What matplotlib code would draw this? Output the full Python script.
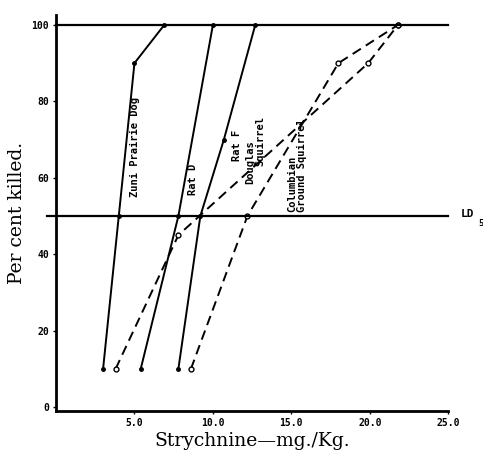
import matplotlib.pyplot as plt

# dose (mg/Kg) vs per cent killed
zuni_x = [3.0, 4.0, 5.0, 6.9]
zuni_y = [10, 50, 90, 100]
ratd_x = [5.4, 7.8, 10.0]
ratd_y = [10, 50, 100]
ratf_x = [7.8, 9.2, 10.7, 12.7]
ratf_y = [10, 50, 70, 100]
doug_x = [3.8, 7.8, 19.9, 21.8]
doug_y = [10, 45, 90, 100]
colu_x = [8.6, 12.2, 18.0, 21.8]
colu_y = [10, 50, 90, 100]

xticks = [5, 10, 15, 20, 25]
xticklabels = ["5.0", "10.0", "15.0", "20.0", "25.0"]
yticks = [0, 20, 40, 60, 80, 100]

mono = {"family": "DejaVu Sans Mono", "weight": "bold"}

fig = plt.figure(figsize=(4.83, 4.54), dpi=100)
ax = fig.add_axes([0.116, 0.095, 0.812, 0.872])

dash = (0, (5, 3))
ax.plot(zuni_x, zuni_y, color="black", lw=1.4, marker="o", ms=2.5)
ax.plot(ratd_x, ratd_y, color="black", lw=1.4, marker="o", ms=2.5)
ax.plot(ratf_x, ratf_y, color="black", lw=1.4, marker="o", ms=2.5)
ax.plot(doug_x, doug_y, color="black", lw=1.4, ls=dash, marker="o", ms=3.5, mfc="white")
ax.plot(colu_x, colu_y, color="black", lw=1.4, ls=dash, marker="o", ms=3.5, mfc="white")

# 100 % and LD50 reference lines
ax.plot([0, 25], [100, 100], color="black", lw=1.6, clip_on=False)
ax.plot([-0.6, 25], [50, 50], color="black", lw=1.6, clip_on=False)
ax.text(25.8, 50.5, "LD", fontsize=8, va="center", ha="left", clip_on=False, **mono)
ax.text(26.9, 48.0, "50", fontsize=6.5, va="center", ha="left", clip_on=False, **mono)

# curve labels
ax.text(5.05, 68, "Zuni Prairie Dog", rotation=90, fontsize=7.5, ha="center", va="center", **mono)
ax.text(8.75, 59.5, "Rat D", rotation=90, fontsize=7.5, ha="center", va="center", **mono)
ax.text(11.55, 68.5, "Rat F", rotation=90, fontsize=7.5, ha="center", va="center", **mono)
ax.text(12.35, 64, "Douglas", rotation=90, fontsize=7.5, ha="center", va="center", **mono)
ax.text(13.0, 69.5, "Squirrel", rotation=90, fontsize=7.5, ha="center", va="center", **mono)
ax.text(15.05, 51, "Columbian", rotation=90, fontsize=7.5, ha="center", va="bottom", **mono)
ax.text(15.65, 51, "Ground Squirrel", rotation=90, fontsize=7.5, ha="center", va="bottom", **mono)

ax.set_xlim(0, 25)
ax.set_ylim(-1, 102.6)
ax.set_xticks(xticks)
ax.set_xticklabels(xticklabels)
ax.set_yticks(yticks)
for lab in ax.get_xticklabels() + ax.get_yticklabels():
    lab.set_fontfamily("DejaVu Sans Mono")
    lab.set_fontweight("bold")
    lab.set_fontsize(7)
ax.tick_params(length=2, width=1, pad=3)

ax.spines["top"].set_visible(False)
ax.spines["right"].set_visible(False)
ax.spines["left"].set_linewidth(2)
ax.spines["bottom"].set_linewidth(2)

ax.set_xlabel("Strychnine\u2014mg./Kg.", family="DejaVu Serif", fontsize=13.5, labelpad=3)
ax.set_ylabel("Per cent killed.", family="DejaVu Serif", fontsize=13.5, labelpad=4)

fig.savefig("out.png", dpi=100)
